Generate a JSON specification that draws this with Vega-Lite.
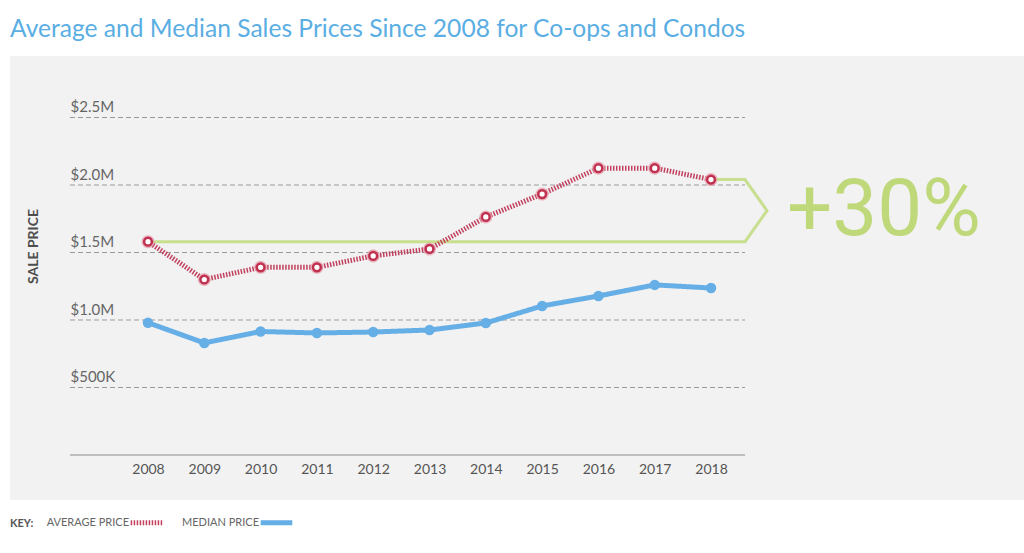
{
  "$schema": "https://vega.github.io/schema/vega-lite/v6.json",
  "width": 1014,
  "height": 444,
  "autosize": "none",
  "padding": {"left": 10, "top": 56, "right": 0, "bottom": 53},
  "background": "white",
  "title": {
    "text": "Average and Median Sales Prices Since 2008 for Co-ops and Condos",
    "anchor": "start",
    "font": "Lato",
    "fontSize": 24.6,
    "fontWeight": "normal",
    "color": "#5aaee3",
    "baseline": "alphabetic",
    "offset": -6
  },
  "config": {
    "view": {"fill": "#f2f2f2", "stroke": null},
    "font": "Lato"
  },
  "datasets": {
    "prices": [
      {"year": 2008, "series": "AVERAGE PRICE", "price": 1580000},
      {"year": 2009, "series": "AVERAGE PRICE", "price": 1300000},
      {"year": 2010, "series": "AVERAGE PRICE", "price": 1390000},
      {"year": 2011, "series": "AVERAGE PRICE", "price": 1390000},
      {"year": 2012, "series": "AVERAGE PRICE", "price": 1475000},
      {"year": 2013, "series": "AVERAGE PRICE", "price": 1526000},
      {"year": 2014, "series": "AVERAGE PRICE", "price": 1763000},
      {"year": 2015, "series": "AVERAGE PRICE", "price": 1933000},
      {"year": 2016, "series": "AVERAGE PRICE", "price": 2125000},
      {"year": 2017, "series": "AVERAGE PRICE", "price": 2125000},
      {"year": 2018, "series": "AVERAGE PRICE", "price": 2040000},
      {"year": 2008, "series": "MEDIAN PRICE", "price": 980000},
      {"year": 2009, "series": "MEDIAN PRICE", "price": 830000},
      {"year": 2010, "series": "MEDIAN PRICE", "price": 915000},
      {"year": 2011, "series": "MEDIAN PRICE", "price": 904000},
      {"year": 2012, "series": "MEDIAN PRICE", "price": 911000},
      {"year": 2013, "series": "MEDIAN PRICE", "price": 926000},
      {"year": 2014, "series": "MEDIAN PRICE", "price": 978000},
      {"year": 2015, "series": "MEDIAN PRICE", "price": 1104000},
      {"year": 2016, "series": "MEDIAN PRICE", "price": 1178000},
      {"year": 2017, "series": "MEDIAN PRICE", "price": 1260000},
      {"year": 2018, "series": "MEDIAN PRICE", "price": 1237000}
    ],
    "grid": [
      {"price": 500000}, {"price": 1000000}, {"price": 1500000}, {"price": 2000000}, {"price": 2500000}
    ],
    "bracket": [
      {"order": 1, "year": 2008, "price": 1580000},
      {"order": 2, "year": 2018.604, "price": 1580000},
      {"order": 3, "year": 2018.995, "price": 1810000},
      {"order": 4, "year": 2018.604, "price": 2040000},
      {"order": 5, "year": 2018, "price": 2040000}
    ],
    "callout": [
      {"label": "+30%", "year": 2021.07, "price": 1807000}
    ]
  },
  "layer": [
    {
      "data": {"name": "grid"},
      "mark": {"type": "rule", "color": "#9a9a9a", "strokeWidth": 1, "strokeDash": [5, 3]},
      "encoding": {
        "x": {"datum": 2006.615, "type": "quantitative", "scale": {"domain": [2005.549, 2023.559], "nice": false, "zero": false},
          "axis": {"values": [2008, 2009, 2010, 2011, 2012, 2013, 2014, 2015, 2016, 2017, 2018], "format": "d", "title": null, "domain": false, "ticks": false, "grid": false, "labelPadding": -38, "labelFontSize": 14, "labelColor": "#555555", "labelFont": "Lato"}},
        "x2": {"datum": 2018.604},
        "y": {"field": "price", "type": "quantitative", "scale": {"domain": [-333333, 2955556], "nice": false, "zero": false},
          "axis": {"values": [500000, 1000000, 1500000, 2000000, 2500000], "title": "SALE PRICE", "domain": false, "ticks": false, "grid": false,
            "labelExpr": "datum.value < 1000000 ? '$' + format(datum.value/1000, 'd') + 'K' : '$' + format(datum.value/1000000, '.1f') + 'M'",
            "labelAlign": "left", "labelPadding": -60, "labelBaseline": "alphabetic", "labelOffset": -6, "labelFontSize": 15, "labelColor": "#666666", "labelFont": "Lato",
            "titleAngle": 270, "titleX": 23, "titleY": 190, "titleAlign": "center", "titleBaseline": "middle", "titleFontSize": 14, "titleFontWeight": "bold", "titleColor": "#4d4d4d", "titleFont": "Lato"}}
      }
    },
    {
      "data": {"values": [{}]},
      "mark": {"type": "rule", "color": "#8a8a8a", "strokeWidth": 1.2},
      "encoding": {
        "x": {"datum": 2006.615, "type": "quantitative"},
        "x2": {"datum": 2018.604},
        "y": {"datum": 0, "type": "quantitative"}
      }
    },
    {
      "data": {"name": "bracket"},
      "mark": {"type": "line", "color": "#c7df8e", "strokeWidth": 3, "strokeJoin": "miter"},
      "encoding": {
        "x": {"field": "year", "type": "quantitative"},
        "y": {"field": "price", "type": "quantitative"},
        "order": {"field": "order"}
      }
    },
    {
      "data": {"name": "prices"},
      "mark": {"type": "line", "strokeWidth": 5},
      "encoding": {
        "x": {"field": "year", "type": "quantitative"},
        "y": {"field": "price", "type": "quantitative"},
        "color": {"field": "series", "type": "nominal",
          "scale": {"domain": ["AVERAGE PRICE", "MEDIAN PRICE"], "range": ["#c2405e", "#66aee6"]},
          "legend": {"title": "KEY:", "orient": "none", "legendX": 0, "legendY": 448, "direction": "horizontal",
            "titleOrient": "left", "titleFontWeight": "bold", "titleFontSize": 11, "titleColor": "#555555", "titleFont": "Lato", "titleBaseline": "top", "titlePadding": 94,
            "labelFontSize": 11, "labelColor": "#666666", "labelFont": "Lato", "labelAlign": "right", "labelOffset": -36,
            "symbolType": "stroke", "symbolSize": 1000, "symbolStrokeWidth": 5, "columnPadding": 9}},
        "strokeDash": {"field": "series", "type": "nominal",
          "scale": {"domain": ["AVERAGE PRICE", "MEDIAN PRICE"], "range": [[1.5, 1.5], [1, 0]]},
          "legend": {"title": "KEY:"}}
      }
    },
    {
      "data": {"name": "prices"},
      "transform": [{"filter": "datum.series === 'MEDIAN PRICE'"}],
      "mark": {"type": "point", "filled": true, "color": "#66aee6", "size": 110, "opacity": 1},
      "encoding": {
        "x": {"field": "year", "type": "quantitative"},
        "y": {"field": "price", "type": "quantitative"}
      }
    },
    {
      "data": {"name": "prices"},
      "transform": [{"filter": "datum.series === 'AVERAGE PRICE'"}],
      "mark": {"type": "point", "filled": true, "color": "#e6a3b2", "size": 170, "opacity": 0.8},
      "encoding": {
        "x": {"field": "year", "type": "quantitative"},
        "y": {"field": "price", "type": "quantitative"}
      }
    },
    {
      "data": {"name": "prices"},
      "transform": [{"filter": "datum.series === 'AVERAGE PRICE'"}],
      "mark": {"type": "point", "filled": false, "fill": "white", "stroke": "#c0304f", "strokeWidth": 2.5, "size": 60, "opacity": 1},
      "encoding": {
        "x": {"field": "year", "type": "quantitative"},
        "y": {"field": "price", "type": "quantitative"}
      }
    },
    {
      "data": {"name": "callout"},
      "mark": {"type": "text", "font": "Roboto", "fontSize": 80, "fontWeight": "normal", "color": "#bfd97a", "align": "center", "baseline": "middle"},
      "encoding": {
        "x": {"field": "year", "type": "quantitative"},
        "y": {"field": "price", "type": "quantitative"},
        "text": {"field": "label"}
      }
    }
  ]
}
